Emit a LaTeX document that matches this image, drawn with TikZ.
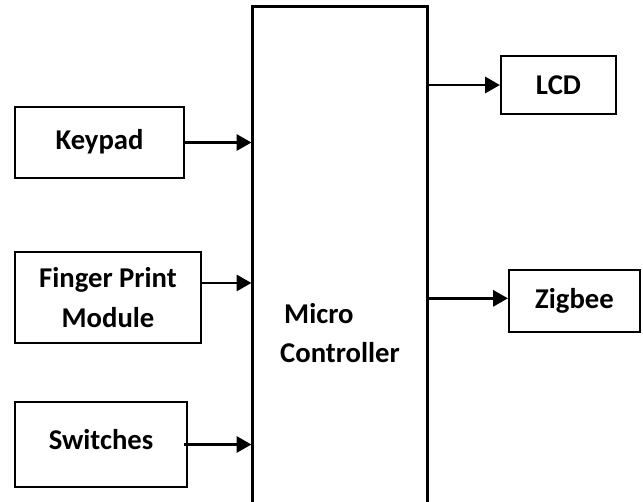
\documentclass[tikz,border=0pt]{standalone}
\usepackage{fontspec}
\setmainfont{Carlito}
\usetikzlibrary{arrows.meta}
\tikzset{
	blk/.style={draw, line width=1.9pt, inner sep=0pt, font=\fontsize{21.5}{29.5}\selectfont\bfseries, align=center},
	arr/.style={line width=1.9pt, -{Triangle[length=11pt, width=12pt]}}
}
\begin{document}
\begin{tikzpicture}[x=0.75pt, y=-0.75pt]
	\useasboundingbox (0,0) rectangle (643,501);
	\clip (0,0) rectangle (643,501);
	\node[blk, minimum width=131pt, minimum height=490pt, align=left] (micro) at (340,333) {\hspace*{3pt}Micro\\Controller};
	\node[blk, minimum width=127pt, minimum height=53pt] (keypad) at (99.5,142.5) {\raisebox{4pt}{Keypad}};
	\node[blk, minimum width=139.5pt, minimum height=68pt] (finger) at (108,297.5) {Finger Print\\Module};
	\node[blk, minimum width=129pt, minimum height=64pt] (switches) at (101,444.5) {\raisebox{8pt}{Switches}};
	\node[blk, minimum width=86pt, minimum height=43.5pt] (lcd) at (558.5,85) {LCD};
	\node[blk, minimum width=98pt, minimum height=46.5pt] (zigbee) at (574.5,301) {Zigbee};
	\draw[arr] (keypad.east) -- (keypad.east -| micro.west);
	\draw[arr] ([yshift=10.9pt]finger.east) -- ([yshift=10.9pt]finger.east -| micro.west);
	\draw[arr] ([xshift=-3pt]switches.east) -- (switches.east -| micro.west);
	\draw[arr] (micro.east |- lcd.west) -- (lcd.west);
	\draw[arr] ([yshift=2pt]micro.east |- zigbee.west) -- ([yshift=2pt]zigbee.west);
\end{tikzpicture}
\end{document}
